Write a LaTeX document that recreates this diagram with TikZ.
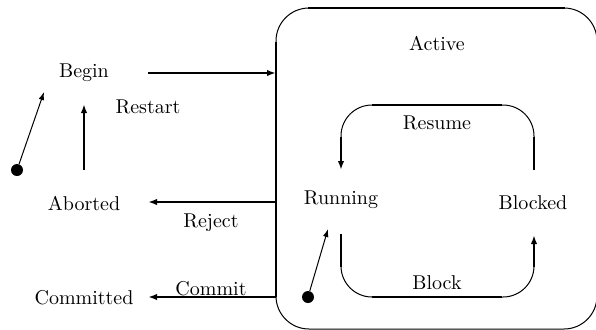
\documentclass[tikz,border=0pt]{standalone}
\usetikzlibrary{arrows.meta}
\begin{document}
\begin{tikzpicture}[x=0.5pt,y=-0.5pt,
  lbl/.style={inner sep=0pt,font=\normalsize},
  thickln/.style={line width=1pt},
  thinln/.style={line width=0.5pt},
  arr/.style={-{Latex[length=4.5pt,width=3.2pt]}},
  sarr/.style={-{Latex[length=4pt,width=2.8pt]}},
  dot/.style={circle,fill=black,inner sep=0pt,minimum size=6pt}]
\useasboundingbox (0,0) rectangle (596,329);
% labels / states
\node[lbl] (begin) at (84,73) {Begin};
\node[lbl] (aborted) at (84,203) {Aborted};
\node[lbl] (committed) at (84,298) {Committed};
\node[lbl] (restart) at (148,107) {Restart};
\node[lbl] (reject) at (211,223) {Reject};
\node[lbl] (commit) at (211,289) {Commit};
\node[lbl] (active) at (437,43) {Active};
\node[lbl] (resume) at (437,123) {Resume};
\node[lbl] (running) at (341,200) {Running};
\node[lbl] (blocked) at (533,203) {Blocked};
\node[lbl] (block) at (437,283) {Block};
\node[dot] (init1) at (17,170) {};
\node[dot] (init2) at (308,297) {};
% Active box
\draw[thinln,rounded corners=16.5pt] (276,8) rectangle (597,329);
\draw[thickln] (276,42) -- (276,297);
\draw[thickln] (308,8) -- (565,8);
% coordinates
\coordinate (bOut) at (148,73);
\coordinate (aIn) at (276,73);
\coordinate (rjS) at (276,202);
\coordinate (rjE) at (148,202);
\coordinate (cmS) at (276,297);
\coordinate (cmE) at (148,297);
\coordinate (rsS) at (84,170);
\coordinate (rsE) at (84,104);
\coordinate (i1E) at (44,92);
\coordinate (i2E) at (328,229);
% outer transitions
\draw[thickln,arr] (bOut) -- (aIn);
\draw[thickln,arr] (rjS) -- (rjE);
\draw[thickln,arr] (cmS) -- (cmE);
\draw[thickln,arr] (rsS) -- (rsE);
\draw[thinln,sarr] (init1) -- (i1E);
\draw[thinln,sarr] (init2) -- (i2E);
% Resume loop
\coordinate (bkTop) at (534,170);
\coordinate (rnTop) at (341,170);
\draw[thinln,rounded corners=15.5pt] (534,137) -- (534,105) -- (341,105) -- (341,137);
\draw[thickln] (bkTop) -- (534,137);
\draw[thickln] (502,105) -- (372,105);
\draw[thickln,arr] (341,137) -- (rnTop);
% Block loop
\coordinate (rnBot) at (341,234);
\coordinate (bkBot) at (534,235);
\draw[thinln,rounded corners=15.5pt] (341,267) -- (341,297) -- (534,297) -- (534,267);
\draw[thickln] (rnBot) -- (341,267);
\draw[thickln] (372,297) -- (502,297);
\draw[thickln,arr] (534,267) -- (bkBot);
\end{tikzpicture}
\end{document}
